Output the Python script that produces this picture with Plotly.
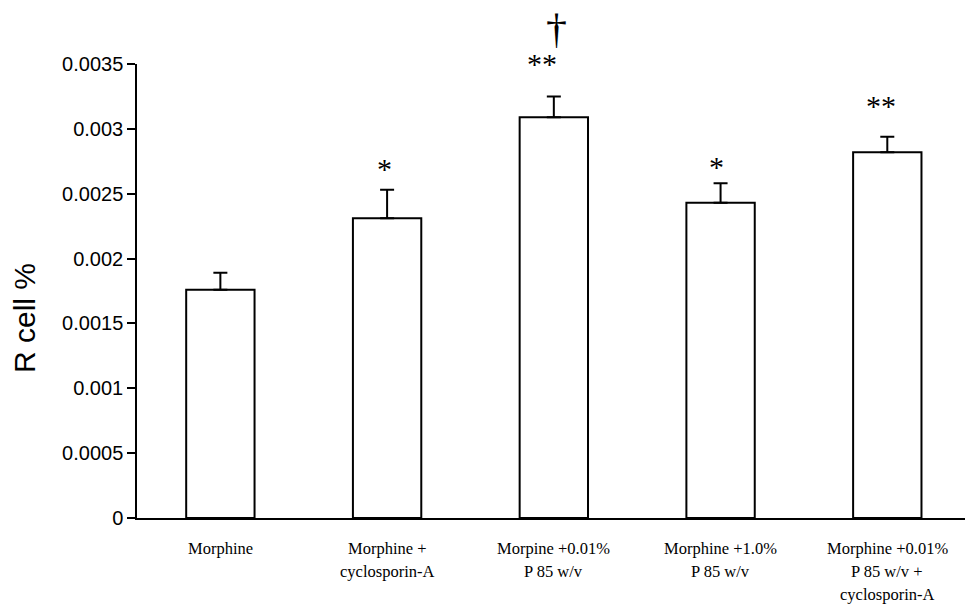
import plotly.graph_objects as go

# Group labels (line breaks as drawn under each bar)
categories = [
    "Morphine",
    "Morphine +<br>cyclosporin-A",
    "Morpine +0.01%<br>P 85 w/v",
    "Morphine +1.0%<br>P 85 w/v",
    "Morphine +0.01%<br>P 85 w/v +<br>cyclosporin-A",
]
# Mean R cell % and standard error per group
r_cell = [0.00176, 0.00231, 0.00309, 0.00243, 0.00282]
r_err = [0.00013, 0.00022, 0.00016, 0.00015, 0.00012]
# Significance marks above each bar
sig_marks = ["", "*", "**", "*", "**"]
dagger_marks = ["", "", "\u2020", "", ""]

y_ticks = [0, 0.0005, 0.001, 0.0015, 0.002, 0.0025, 0.003, 0.0035]
y_tick_text = ["0", "0.0005", "0.001", "0.0015", "0.002", "0.0025", "0.003", "0.0035"]

# Styling for the marks
sig_pad = [0, 0.00016, 0.00025, 0.00012, 0.00023]
sig_xshift = [0, -3, -12, -4, -6]

x_idx = list(range(len(categories)))

fig = go.Figure()
fig.add_trace(go.Bar(
    x=x_idx,
    y=r_cell,
    width=0.41,
    marker=dict(color="white", line=dict(color="black", width=2)),
    error_y=dict(type="data", array=r_err, arrayminus=[0] * len(r_err),
                 symmetric=False, color="black", thickness=2, width=7),
    showlegend=False,
))

annotations = []
serif = "Liberation Serif, Times New Roman, serif"
sans = "Liberation Sans, Arial, sans-serif"

# Category labels, one annotation per line for even spacing
for i, cat in enumerate(categories):
    for j, line in enumerate(cat.split("<br>")):
        annotations.append(dict(
            x=i, xref="x", y=0, yref="paper", yanchor="middle",
            yshift=-30 - 23 * j, text=line, showarrow=False,
            font=dict(family=serif, size=16.5, color="black"),
        ))

# Significance asterisks and dagger
for i, mark in enumerate(sig_marks):
    if mark:
        annotations.append(dict(
            x=i, xref="x", y=r_cell[i] + r_err[i] + sig_pad[i], yref="y",
            yanchor="middle", xshift=sig_xshift[i], yshift=1,
            text=mark, showarrow=False,
            font=dict(family=serif, size=30, color="black"),
        ))
    if dagger_marks[i]:
        annotations.append(dict(
            x=i, xref="x", y=r_cell[i] + r_err[i] + sig_pad[i], yref="y",
            yanchor="bottom", xshift=3, yshift=10,
            text=dagger_marks[i], showarrow=False,
            font=dict(family=serif, size=42, color="black"),
        ))

# Y axis title, placed in pixel terms relative to the plot area
plot_l, plot_r, plot_t, plot_b = 137, 0, 64, 86
W, H = 965, 604
pw, ph = W - plot_l - plot_r, H - plot_t - plot_b
annotations.append(dict(
    x=(24 - plot_l) / pw, xref="paper", xanchor="center",
    y=(H - plot_b - 318) / ph, yref="paper", yanchor="middle",
    text="R cell %", textangle=-90, showarrow=False,
    font=dict(family=sans, size=30, color="black"),
))

fig.update_layout(
    width=W, height=H,
    margin=dict(l=plot_l, r=plot_r, t=plot_t, b=plot_b),
    paper_bgcolor="white", plot_bgcolor="white",
    xaxis=dict(
        range=[-0.5, 4.466], showticklabels=False, ticks="",
        showline=True, linecolor="black", linewidth=2,
        showgrid=False, zeroline=False, fixedrange=True,
    ),
    yaxis=dict(
        range=[0, 0.0035], tickvals=y_ticks, ticktext=y_tick_text,
        ticks="outside", ticklen=8, tickwidth=1.5, tickcolor="black",
        showline=True, linecolor="black", linewidth=1.5,
        showgrid=False, zeroline=False,
        tickfont=dict(family=sans, size=20, color="black"),
    ),
    annotations=annotations,
)

fig.write_html("out.html")
